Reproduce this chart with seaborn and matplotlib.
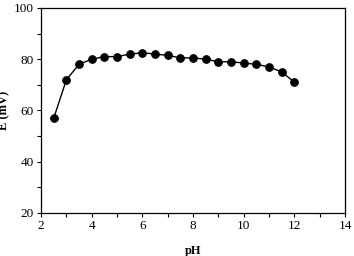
import numpy as np
import pandas as pd
import seaborn as sns
import matplotlib
matplotlib.use("Agg")
import matplotlib.pyplot as plt
from matplotlib.ticker import MultipleLocator

# data
ph = [2.5, 3, 3.5, 4, 4.5, 5, 5.5, 6, 6.5, 7, 7.5, 8, 8.5, 9, 9.5, 10, 10.5, 11, 11.5, 12]
e_mv = [57, 72, 78, 80, 81, 81, 82, 82.5, 82, 81.5, 80.5, 80.5, 80, 79, 79, 78.5, 78, 77, 75, 71]

sns.set_style("ticks")
plt.rcParams['font.family'] = ['Liberation Serif', 'DejaVu Serif']

df = pd.DataFrame({"pH": ph, "E": e_mv})

fig = plt.figure(figsize=(3.54, 2.56), dpi=100)
ax = fig.add_axes([0.116, 0.168, 0.859, 0.801])
sns.lineplot(data=df, x="pH", y="E", ax=ax, color="black", lw=1,
             marker="o", markersize=5.5, markeredgecolor="black")

ax.set_xlim(2, 14)
ax.set_ylim(20, 100)
ax.xaxis.set_major_locator(MultipleLocator(2))
ax.xaxis.set_minor_locator(MultipleLocator(1))
ax.yaxis.set_major_locator(MultipleLocator(20))
ax.yaxis.set_minor_locator(MultipleLocator(10))
ax.tick_params(which="both", direction="out", labelsize=9.5, width=0.8,
               color="black", labelcolor="black", pad=2)
ax.tick_params(which="major", length=3)
ax.tick_params(which="minor", length=3)
for s in ax.spines.values():
    s.set_visible(True)
    s.set_linewidth(0.9)
    s.set_color("black")

ax.set_xlabel("pH", fontsize=9, fontweight="bold", color="black")
ax.set_ylabel("E (mV)", fontsize=9, fontweight="bold", color="black")
ax.xaxis.set_label_coords(0.5, -0.155)
ax.yaxis.set_label_coords(-0.1, 0.5)

plt.savefig("out.png", dpi=100)
